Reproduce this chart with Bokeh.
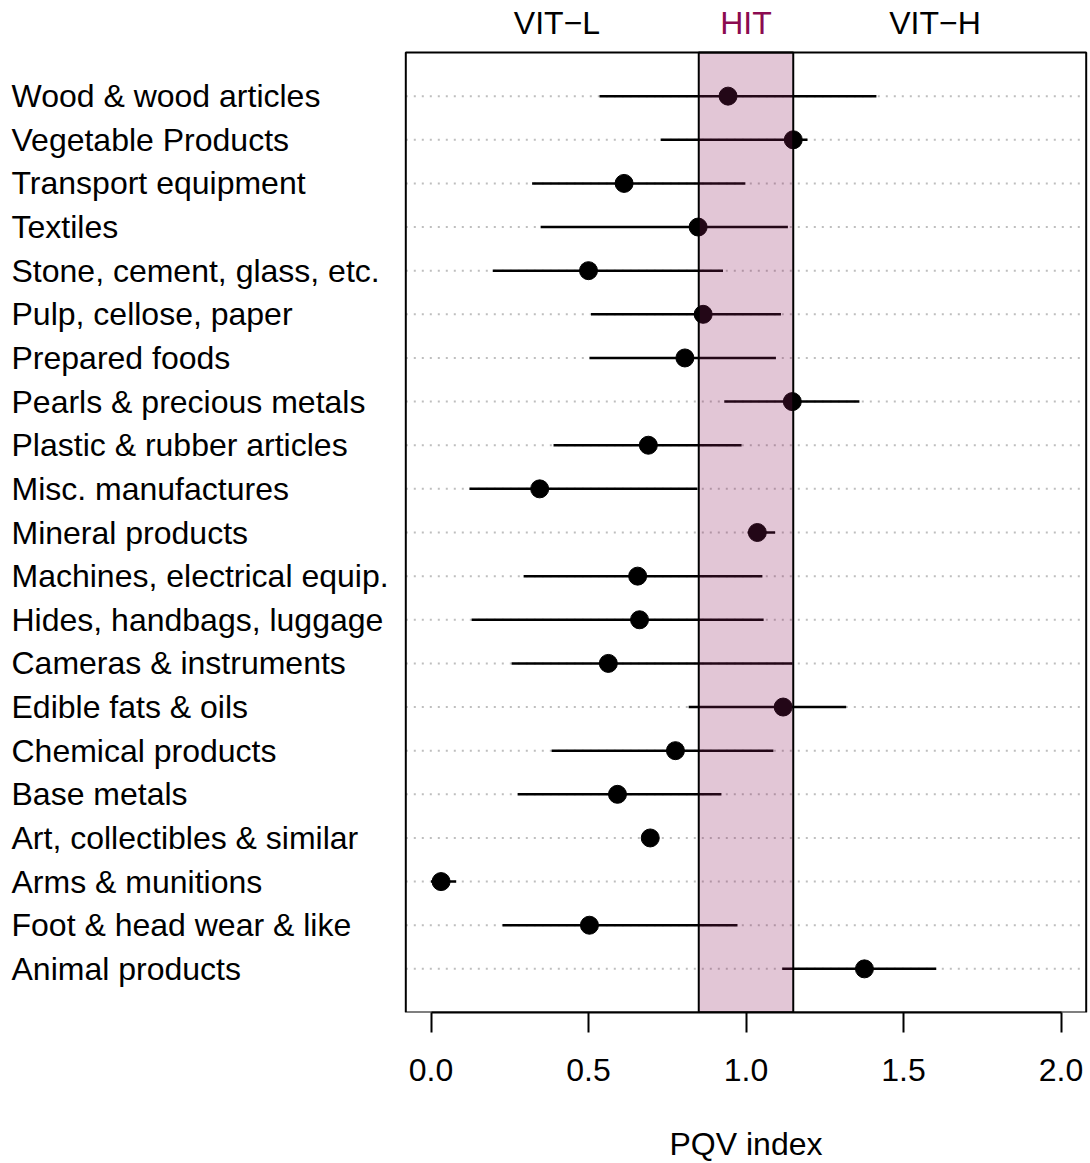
from bokeh.plotting import figure
from bokeh.layouts import row
from bokeh.models import Range1d, FixedTicker, ColumnDataSource, NumeralTickFormatter
from bokeh.core.properties import value
from bokeh.embed import file_html
from bokeh.resources import INLINE

categories = ["Wood & wood articles", "Vegetable Products", "Transport equipment", "Textiles",
              "Stone, cement, glass, etc.", "Pulp, cellose, paper", "Prepared foods",
              "Pearls & precious metals", "Plastic & rubber articles", "Misc. manufactures",
              "Mineral products", "Machines, electrical equip.", "Hides, handbags, luggage",
              "Cameras & instruments", "Edible fats & oils", "Chemical products", "Base metals",
              "Art, collectibles & similar", "Arms & munitions", "Foot & head wear & like",
              "Animal products"]
pqv = [0.943, 1.150, 0.613, 0.848, 0.500, 0.864, 0.806, 1.147, 0.690, 0.345, 1.036,
       0.656, 0.662, 0.563, 1.118, 0.776, 0.592, 0.696, 0.032, 0.503, 1.376]
low = [0.535, 0.729, 0.321, 0.348, 0.196, 0.508, 0.503, 0.931, 0.389, 0.122, 1.005,
       0.294, 0.129, 0.256, 0.818, 0.383, 0.275, 0.690, 0.000, 0.227, 1.115]
high = [1.414, 1.195, 0.998, 1.133, 0.927, 1.111, 1.095, 1.360, 0.986, 0.846, 1.092,
        1.052, 1.056, 1.148, 1.318, 1.087, 0.922, 0.700, 0.080, 0.973, 1.604]
hit_band = [0.85, 1.15]
zone_labels = ["VIT\u2212L", "HIT", "VIT\u2212H"]
zone_x = [0.4, 1.0, 1.6]
zone_colors = ["black", "#8B0A50", "black"]
x_ticks = [0.0, 0.5, 1.0, 1.5, 2.0]
x_limits = [-0.08, 2.08]

n = len(categories)
pos = list(range(n, 0, -1))
y_top = n + 1

FONT = "Liberation Sans"
FS = "32px"

# layout constants (pixels)
LEFT_W = 403            # width of the label panel
PX_X = 315.0            # pixels per x unit
X0_PX = 430.5           # page x of value 0
FRAME_W = 685
PX_Y = 960.0 / y_top    # pixels per row
FRAME_H = 1012
BOTTOM = 150

x_start = (LEFT_W - X0_PX) / PX_X
x_end = (LEFT_W + FRAME_W - X0_PX) / PX_X
y_end = FRAME_H / PX_Y
y_range = Range1d(0, y_end)

src = ColumnDataSource(dict(cat=categories, pqv=pqv, low=low, high=high, pos=pos))
zsrc = ColumnDataSource(dict(x=zone_x, y=[y_end - 22 / PX_Y] * 3, t=zone_labels, c=zone_colors))

# ---- label panel ----
pl = figure(frame_width=LEFT_W, frame_height=FRAME_H,
            x_range=Range1d(0, LEFT_W), y_range=y_range,
            output_backend="svg", toolbar_location=None,
            x_axis_location=None, y_axis_location=None,
            min_border_left=0, min_border_right=0, min_border_top=0, min_border_bottom=BOTTOM)
pl.outline_line_color = None
pl.background_fill_color = "white"
pl.border_fill_color = "white"
pl.xgrid.visible = False
pl.ygrid.visible = False
pl.text(x=11, y="pos", text="cat", source=src,
        text_font=value(FONT), text_font_size=value(FS),
        text_baseline=value("middle"), text_align=value("left"), text_color="black")

# ---- main panel ----
p = figure(frame_width=FRAME_W, frame_height=FRAME_H,
           x_range=Range1d(x_start, x_end), y_range=y_range,
           output_backend="svg", toolbar_location=None, y_axis_location=None,
           min_border_left=0, min_border_right=1, min_border_top=0, min_border_bottom=BOTTOM)
p.background_fill_color = "white"
p.border_fill_color = "white"
p.outline_line_color = None
p.xgrid.visible = False
p.ygrid.visible = False

p.segment(x0=x_limits[0], y0="pos", x1=x_limits[1], y1="pos", source=src,
          line_color="#bebebe", line_dash="2 6", line_width=2)
p.segment(x0="low", y0="pos", x1="high", y1="pos", source=src, line_color="black", line_width=2.5)
p.scatter(x="pqv", y="pos", source=src, size=18, fill_color="black", line_color="black")
p.quad(left=hit_band[0], right=hit_band[1], bottom=0, top=y_top,
       fill_color="#8B1A5A", fill_alpha=0.25, line_color="black", line_width=2)
p.quad(left=x_limits[0], right=x_limits[1], bottom=0, top=y_top,
       fill_color=None, line_color="black", line_width=2)

p.text(x="x", y="y", text="t", text_color="c", source=zsrc,
       text_font=value(FONT), text_font_size=value(FS),
       text_baseline=value("middle"), text_align=value("center"))

ax = p.xaxis[0]
ax.ticker = FixedTicker(ticks=x_ticks)
ax.formatter = NumeralTickFormatter(format="0.0")
ax.bounds = (x_ticks[0], x_ticks[-1])
ax.major_tick_out = 20
ax.major_tick_in = 0
ax.minor_tick_line_color = None
ax.axis_line_width = 2
ax.major_tick_line_width = 2
ax.major_label_text_font = FONT
ax.major_label_text_font_size = FS
ax.major_label_text_color = "black"
ax.major_label_standoff = 26
ax.axis_label = "PQV index"
ax.axis_label_text_font = FONT
ax.axis_label_text_font_size = FS
ax.axis_label_text_font_style = "normal"
ax.axis_label_text_color = "black"
ax.axis_label_standoff = 42

layout = row(pl, p, spacing=0)
open("out.html", "w").write(file_html(layout, INLINE))
